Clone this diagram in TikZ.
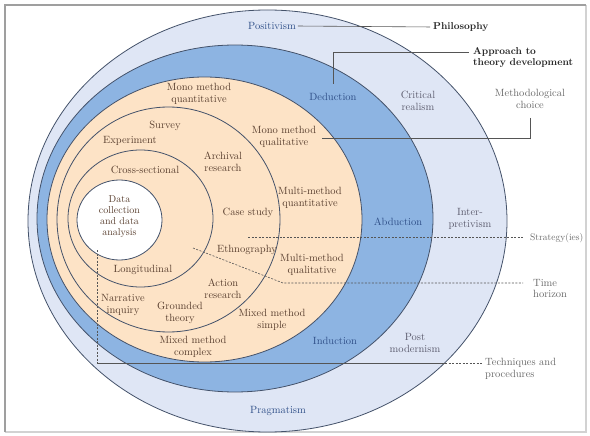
\documentclass[tikz,border=0pt]{standalone}
\usepackage{xcolor}
\definecolor{paleblue}{HTML}{DFE6F5}
\definecolor{midblue}{HTML}{8DB4E2}
\definecolor{peach}{HTML}{FDE3C6}
\definecolor{ringline}{HTML}{44526A}
\definecolor{bluetext}{HTML}{2F4F88}
\definecolor{graytext}{HTML}{5C5C6E}
\definecolor{browntext}{HTML}{5A4030}
\definecolor{margtext}{HTML}{6A6A6A}
\definecolor{leadline}{HTML}{555555}
\tikzset{
  lbl/.style={font=\fontsize{10.5}{11.5}\selectfont, align=center, inner sep=0pt},
  bl/.style={lbl, text=bluetext},
  gr/.style={lbl, text=graytext},
  pc/.style={lbl, text=browntext},
  mg/.style={lbl, text=margtext, align=left},
  hd/.style={lbl, font=\fontsize{10}{11}\selectfont\bfseries, text=black!85, align=left},
  ring/.style={draw=ringline, line width=0.8pt},
  lead/.style={draw=leadline, line width=0.6pt},
  dlead/.style={draw=leadline, line width=0.6pt, dash pattern=on 2pt off 1.5pt}
}
\begin{document}
\begin{tikzpicture}[x=1pt,y=-1pt]
\useasboundingbox (0,0) rectangle (590,436);
\fill[white] (0,0) rectangle (590,436);
% frame
\draw[gray!35, line width=1.5pt] (5,432) -- (586,432) -- (586,5);
\draw[gray!75, line width=2pt] (5,432) -- (5,5) -- (586,5);
% layers
\path[ring, fill=paleblue] (267.5,221) ellipse [x radius=239.5pt, y radius=211pt];
\path[ring, fill=midblue] (235,218.5) ellipse [x radius=198pt, y radius=173.5pt];
\path[ring, fill=peach] (204.5,219.5) ellipse [x radius=157.5pt, y radius=142.5pt];
\path[ring] (168.5,219.5) ellipse [x radius=111.5pt, y radius=112.5pt];
\path[ring] (140.5,218.5) ellipse [x radius=72.5pt, y radius=68.5pt];
\path[ring, fill=white] (119.5,220) ellipse [x radius=42.5pt, y radius=40pt];
% labels
\node[bl] (posit) at (272,26) {Positivism};
\node[hd, anchor=west] (philo) at (433,27) {Philosophy};
\node[hd, anchor=west] (appr) at (473,57.5) {Approach to\\theory development};
\node[bl] (ded) at (333,97) {Deduction};
\node[gr] (crit) at (418,101) {Critical\\realism};
\node[mg, align=center] (meth) at (530,99) {Methodological\\choice};
\node[pc] (mmq1) at (199,94) {Mono method\\quantitative};
\node[pc] (survey) at (165,126) {Survey};
\node[pc] (exper) at (130,141) {Experiment};
\node[pc] (mmq2) at (284,137) {Mono method\\qualitative};
\node[pc] (arch) at (223,162) {Archival\\research};
\node[pc] (cross) at (145,170) {Cross-sectional};
\node[pc] (mtq) at (310,198) {Multi-method\\quantitative};
\node[pc] (case) at (248,213) {Case study};
\node[pc, font=\fontsize{10}{11}\selectfont] (data) at (119.5,217) {Data\\collection\\and data\\analysis};
\node[bl] (abd) at (398,222) {Abduction};
\node[gr] (inter) at (470,219) {Inter-\\pretivism};
\node[mg, anchor=west, font=\fontsize{9.5}{11}\selectfont] (strat) at (530,238) {Strategy(ies)};
\node[pc] (ethno) at (247,250) {Ethnography};
\node[pc] (mtl) at (312,265) {Multi-method\\qualitative};
\node[pc] (long) at (143,270) {Longitudinal};
\node[mg, anchor=west] (time) at (533,288.75) {Time\\horizon};
\node[pc] (action) at (223,289) {Action\\research};
\node[pc] (narr) at (123,305) {Narrative\\inquiry};
\node[pc] (grounded) at (180,313) {Grounded\\theory};
\node[pc] (mixs) at (272,320) {Mixed method\\simple};
\node[pc] (mixc) at (193,347) {Mixed method\\complex};
\node[bl] (ind) at (335,341) {Induction};
\node[gr] (post) at (415,343) {Post\\modernism};
\node[mg, anchor=west] (tech) at (485,368.75) {Techniques and\\procedures};
\node[bl] (prag) at (278,411) {Pragmatism};
% leader lines
\draw[lead, shorten <=2pt, shorten >=3pt] (posit.east) -- (philo.west);
\coordinate (dedtop) at (333,84);
\coordinate (apprjoin) at (469,52);
\draw[lead] (dedtop) |- (apprjoin);
\coordinate (methbot) at (530,118);
\coordinate (mq2end) at (322,138);
\draw[lead] (methbot) |- (mq2end);
\coordinate (sL) at (248,237);
\draw[dlead, shorten >=6pt] (sL) -- (sL -| strat.west);
\coordinate (tA) at (193,248);
\coordinate (tB) at (283,283);
\coordinate (tC) at (523,283);
\draw[dlead] (tA) -- (tB) -- (tC);
\coordinate (tv1) at (97,250);
\coordinate (tv2) at (97,363);
\coordinate (tv3) at (445,363);
\coordinate (tv4) at (482,363);
\draw[dlead] (tv1) -- (tv2);
\draw[lead] (tv2) -- (tv3);
\draw[dlead] (tv3) -- (tv4);
\end{tikzpicture}
\end{document}
